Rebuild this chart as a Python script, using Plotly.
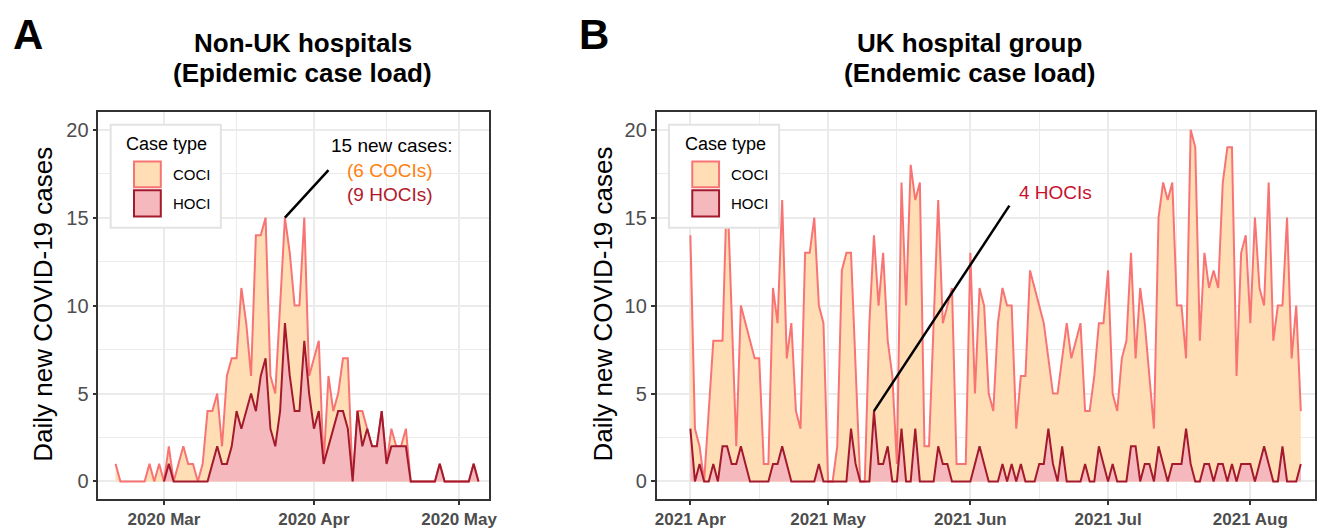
import pandas as pd
import plotly.graph_objects as go

# ---------------- data ----------------
# Panel A: Non-UK hospitals (daily totals = COCI + HOCI, stacked top), from 2020-02-20
A_start_total = "2020-02-20"
A_total = [1, 0, 0, 0, 0, 0, 0, 1, 0, 1,
           0, 2, 0, 1, 2, 1, 1, 0, 1, 4,
           4, 5, 2, 6, 7, 7, 11, 9, 6, 14,
           14, 15, 6, 5, 10, 15, 13, 10, 10, 15,
           6, 7, 8, 1, 6, 4, 5, 7, 7, 0,
           4, 4, 3, 2, 2, 4, 1, 3, 2, 2,
           3, 0, 0, 0, 0, 0, 0, 1, 0, 0,
           0, 0, 0, 0, 1, 0]
# HOCI from 2020-03-01
A_start_hoci = "2020-03-01"
A_hoci = [0, 1, 0, 0, 0, 0, 0, 0, 0, 0,
          1, 2, 1, 1, 2, 4, 3, 4, 5, 4,
          6, 7, 3, 2, 4, 9, 6, 4, 4, 8,
          5, 3, 4, 1, 2, 3, 4, 4, 3, 0,
          4, 2, 3, 2, 2, 4, 1, 2, 2, 2,
          2, 0, 0, 0, 0, 0, 0, 1, 0, 0,
          0, 0, 0, 0, 1, 0]

# Panel B: UK hospital group, from 2021-04-01
B_start = "2021-04-01"
B_total = [14, 3, 2, 0, 4, 8, 8, 8, 17, 10,
           2, 10, 9, 8, 7, 7, 1, 1, 11, 9,
           16, 7, 9, 4, 3, 13, 13, 15, 10, 9,
           0, 0, 2, 12, 13, 13, 6, 0, 0, 9,
           14, 10, 13, 8, 6, 1, 17, 10, 18, 16,
           17, 2, 2, 9, 16, 9, 10, 11, 1, 1,
           1, 13, 5, 11, 10, 5, 4, 9, 11, 10,
           10, 3, 6, 6, 12, 11, 10, 9, 7, 5,
           5, 7, 9, 7, 8, 9, 4, 4, 6, 9,
           9, 12, 5, 4, 7, 8, 13, 7, 11, 9,
           6, 3, 15, 17, 16, 17, 10, 10, 7, 20,
           19, 8, 13, 11, 12, 11, 17, 19, 19, 6,
           13, 14, 9, 15, 11, 10, 17, 8, 10, 10,
           15, 7, 10, 4]
B_hoci = [3, 0, 1, 0, 0, 1, 0, 2, 2, 1,
          1, 2, 1, 0, 0, 0, 0, 0, 1, 1,
          2, 1, 0, 0, 0, 0, 0, 0, 1, 0,
          0, 0, 0, 0, 0, 3, 1, 0, 0, 0,
          4, 1, 1, 2, 0, 0, 3, 0, 0, 3,
          0, 0, 0, 0, 2, 1, 1, 0, 0, 0,
          0, 0, 1, 2, 1, 0, 0, 0, 1, 0,
          1, 0, 1, 0, 0, 0, 1, 1, 3, 1,
          0, 2, 0, 0, 0, 0, 1, 0, 0, 2,
          1, 0, 1, 0, 0, 0, 2, 2, 0, 1,
          1, 0, 2, 1, 0, 1, 1, 1, 3, 1,
          0, 0, 1, 1, 0, 1, 1, 0, 1, 0,
          1, 1, 1, 0, 1, 2, 1, 0, 0, 2,
          0, 0, 0, 1]

A_ticks = ["2020-03-01", "2020-04-01", "2020-05-01"]
A_ticklabels = ["2020 Mar", "2020 Apr", "2020 May"]
A_minor = ["2020-03-16", "2020-04-16"]
B_ticks = ["2021-04-01", "2021-05-01", "2021-06-01", "2021-07-01", "2021-08-01"]
B_ticklabels = ["2021 Apr", "2021 May", "2021 Jun", "2021 Jul", "2021 Aug"]
B_minor = ["2021-04-16", "2021-05-16", "2021-06-16", "2021-07-16"]
Y_ticks = [0, 5, 10, 15, 20]
Y_minor = [2.5, 7.5, 12.5, 17.5]

# ---------------- style ----------------
W, H = 1330, 529
FONT = "Liberation Sans, Arial, Helvetica, sans-serif"
COCI_FILL = "#FFDEB6"
COCI_LINE = "#F87474"
HOCI_FILL = "#F4B8BD"
HOCI_LINE = "#A31A2D"
GRID = "#EBEBEB"
BORDER = "#333333"
TICKTXT = "#4D4D4D"


def px(x):
    return x / W


def py(y):
    return 1 - y / H


A_dates_total = pd.date_range(A_start_total, periods=len(A_total), freq="D")
A_dates_hoci = pd.date_range(A_start_hoci, periods=len(A_hoci), freq="D")
B_dates = pd.date_range(B_start, periods=len(B_total), freq="D")

fig = go.Figure()
fig.add_trace(go.Scatter(x=A_dates_total, y=A_total, mode="lines",
                         line=dict(color=COCI_LINE, width=2), fill="tozeroy",
                         fillcolor=COCI_FILL, xaxis="x", yaxis="y", showlegend=False,
                         hoverinfo="skip"))
fig.add_trace(go.Scatter(x=A_dates_hoci, y=A_hoci, mode="lines",
                         line=dict(color=HOCI_LINE, width=2), fill="tozeroy",
                         fillcolor=HOCI_FILL, xaxis="x", yaxis="y", showlegend=False,
                         hoverinfo="skip"))
fig.add_trace(go.Scatter(x=B_dates, y=B_total, mode="lines",
                         line=dict(color=COCI_LINE, width=2), fill="tozeroy",
                         fillcolor=COCI_FILL, xaxis="x2", yaxis="y2", showlegend=False,
                         hoverinfo="skip"))
fig.add_trace(go.Scatter(x=B_dates, y=B_hoci, mode="lines",
                         line=dict(color=HOCI_LINE, width=2), fill="tozeroy",
                         fillcolor=HOCI_FILL, xaxis="x2", yaxis="y2", showlegend=False,
                         hoverinfo="skip"))

# axis ranges (pixel-matched)
A_base = pd.Timestamp("2020-03-01")
A_range = [str(A_base + pd.Timedelta(days=-13.58)), str(A_base + pd.Timedelta(days=67.24))]
B_base = pd.Timestamp("2021-04-01")
B_range = [str(B_base + pd.Timedelta(days=-7.37)), str(B_base + pd.Timedelta(days=136.1))]

common_x = dict(type="date", showgrid=True, gridcolor=GRID, gridwidth=2,
                ticks="outside", ticklen=4, tickwidth=1.5, tickcolor=BORDER,
                showline=True, mirror=True, linecolor=BORDER, linewidth=1.5,
                zeroline=False, fixedrange=True,
                tickfont=dict(family=FONT, size=17, color=TICKTXT, weight="bold"))
common_y = dict(range=[-1.01, 21.01], tickvals=Y_ticks, showgrid=True, gridcolor=GRID,
                gridwidth=2, ticks="outside", ticklen=4, tickwidth=1.5, tickcolor=BORDER,
                showline=True, mirror=True, linecolor=BORDER, linewidth=1.5,
                zeroline=False, fixedrange=True,
                minor=dict(tickvals=Y_minor, showgrid=True, gridcolor=GRID, gridwidth=1, ticks=""),
                tickfont=dict(family=FONT, size=20, color=TICKTXT))

Y_dom = [py(504), py(113)]
fig.update_layout(
    width=W, height=H, autosize=False, margin=dict(l=0, r=0, t=0, b=0),
    paper_bgcolor="white", plot_bgcolor="white", hovermode=False,
    font=dict(family=FONT, color="black"),
    xaxis=dict(domain=[px(97), px(491)], range=A_range, tickvals=A_ticks,
               ticktext=A_ticklabels, anchor="y",
               minor=dict(tickvals=A_minor, showgrid=True, gridcolor=GRID, gridwidth=1, ticks=""),
               **common_x),
    yaxis=dict(domain=Y_dom, anchor="x", **common_y),
    xaxis2=dict(domain=[px(659.5), px(1323)], range=B_range, tickvals=B_ticks,
                ticktext=B_ticklabels, anchor="y2",
                minor=dict(tickvals=B_minor, showgrid=True, gridcolor=GRID, gridwidth=1, ticks=""),
                **common_x),
    yaxis2=dict(domain=Y_dom, anchor="x2", **common_y),
)

shapes = []
annos = []

# annotation pointer lines (start at annotated data points)
iA = A_hoci.index(max(A_hoci))
A_pt_date = A_dates_hoci[iA]
A_pt_val = A_total[list(A_dates_total).index(A_pt_date)]
shapes.append(dict(type="line", xref="x", yref="y",
                   x0=A_pt_date, y0=A_pt_val,
                   x1=A_pt_date + pd.Timedelta(days=9), y1=17.7,
                   line=dict(color="black", width=2.5)))
iB = B_hoci.index(max(B_hoci))
shapes.append(dict(type="line", xref="x2", yref="y2",
                   x0=B_dates[iB], y0=B_hoci[iB],
                   x1=B_dates[iB] + pd.Timedelta(days=29.5), y1=15.68,
                   line=dict(color="black", width=2.5)))

annos += [
    dict(text="15 new cases:", x=px(392), y=py(147), font=dict(size=19, color="black")),
    dict(text=f"({A_pt_val - A_hoci[iA]} COCIs)", x=px(391), y=py(172), font=dict(size=19, color="#FF7F0E")),
    dict(text=f"({A_hoci[iA]} HOCIs)", x=px(391), y=py(196), font=dict(size=19, color="#B2182B")),
    dict(text=f"{B_hoci[iB]} HOCIs", x=px(1061), y=py(194), font=dict(size=19, color="#C8102E")),
]

# legends (drawn manually, ggplot-style keys)
for off in (0, 562.5):
    shapes.append(dict(type="rect", xref="paper", yref="paper",
                       x0=px(109.5 + off), x1=px(220.5 + off), y0=py(230), y1=py(126),
                       fillcolor="white", line=dict(color="#E3E3E3", width=2), layer="above"))
    shapes.append(dict(type="rect", xref="paper", yref="paper",
                       x0=px(133 + off), x1=px(160 + off), y0=py(189), y1=py(163),
                       fillcolor=COCI_FILL, line=dict(color=COCI_LINE, width=2), layer="above"))
    shapes.append(dict(type="rect", xref="paper", yref="paper",
                       x0=px(133 + off), x1=px(160 + off), y0=py(218.5), y1=py(192),
                       fillcolor=HOCI_FILL, line=dict(color=HOCI_LINE, width=2), layer="above"))
    annos += [
        dict(text="Case type", x=px(166 + off), y=py(145), font=dict(size=18, color="black")),
        dict(text="COCI", x=px(170 + off), y=py(176), xanchor="left", font=dict(size=15, color="black")),
        dict(text="HOCI", x=px(170 + off), y=py(205), xanchor="left", font=dict(size=15, color="black")),
    ]

# titles, panel tags, axis titles
annos += [
    dict(text="<b>Non-UK hospitals</b>", x=px(303), y=py(43), font=dict(size=26, color="black")),
    dict(text="<b>(Epidemic case load)</b>", x=px(303), y=py(74), font=dict(size=26, color="black")),
    dict(text="<b>UK hospital group</b>", x=px(975), y=py(43), font=dict(size=26, color="black")),
    dict(text="<b>(Endemic case load)</b>", x=px(975), y=py(74), font=dict(size=26, color="black")),
    dict(text="<b>A</b>", x=px(26), y=py(35), font=dict(size=42, color="black")),
    dict(text="<b>B</b>", x=px(596), y=py(35), font=dict(size=42, color="black")),
    dict(text="Daily new COVID-19 cases", x=px(41), y=py(307), textangle=-90,
         font=dict(size=26, color="black")),
    dict(text="Daily new COVID-19 cases", x=px(606), y=py(307), textangle=-90,
         font=dict(size=26, color="black")),
]

for a in annos:
    a.setdefault("xref", "paper")
    a.setdefault("yref", "paper")
    a.setdefault("showarrow", False)
    a.setdefault("xanchor", "center")
    a.setdefault("yanchor", "middle")
    a["font"].setdefault("family", FONT)

fig.update_layout(shapes=shapes, annotations=annos)
fig.write_html("out.html",
               config={"displayModeBar": False, "responsive": False},
               post_script="document.body.style.margin='0px';"
                           "document.body.style.overflow='hidden';")
